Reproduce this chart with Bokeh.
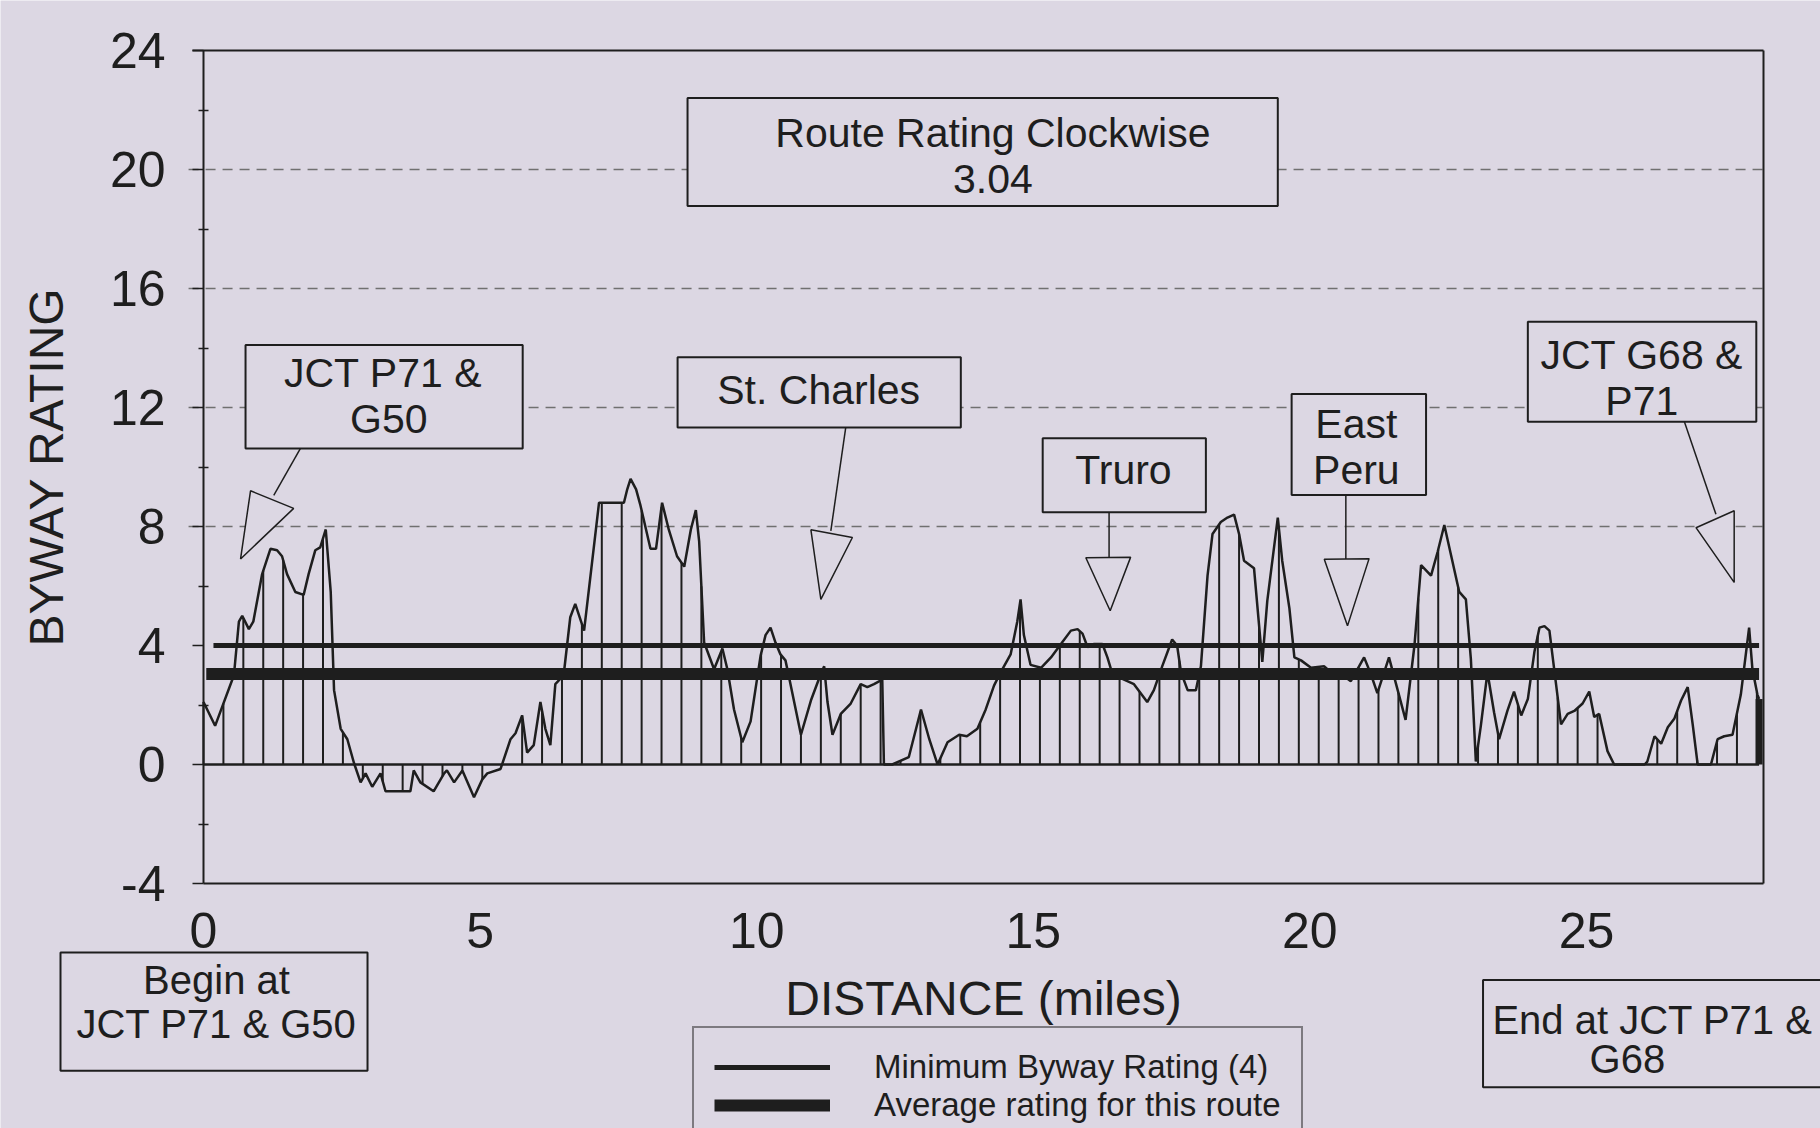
import numpy as np
from bokeh.plotting import figure
from bokeh.models import Range1d, FixedTicker, Legend, LegendItem
from bokeh.core.properties import value
from bokeh.embed import file_html
from bokeh.resources import INLINE

# ---------------- data ----------------
distance_mi = [
    0.00, 0.21, 0.55, 0.64, 0.70, 0.82, 0.90, 1.06, 1.21, 1.33, 1.42, 1.51, 1.66, 1.81, 1.90,
    2.02, 2.11, 2.21, 2.30, 2.36, 2.48, 2.60, 2.72, 2.84, 2.93, 3.05, 3.20, 3.29, 3.74, 3.80,
    3.92, 4.16, 4.35, 4.40, 4.53, 4.68, 4.89, 5.04, 5.13, 5.37, 5.55, 5.64, 5.76, 5.85, 5.97,
    6.09, 6.18, 6.27, 6.36, 6.51, 6.63, 6.72, 6.88, 7.15, 7.60, 7.66, 7.72, 7.82, 7.90, 8.08,
    8.18, 8.29, 8.41, 8.56, 8.69, 8.81, 8.90, 8.96, 9.05, 9.23, 9.38, 9.47, 9.59, 9.74, 9.89,
    10.07, 10.16, 10.25, 10.34, 10.43, 10.52, 10.60, 10.80, 10.98, 11.16, 11.22, 11.28, 11.37,
    11.52, 11.70, 11.88, 12.00, 12.12, 12.27, 12.30, 12.45, 12.75, 12.97, 13.12, 13.27, 13.45,
    13.66, 13.80, 13.99, 14.14, 14.29, 14.41, 14.59, 14.71, 14.77, 14.83, 14.95, 15.14, 15.32,
    15.50, 15.68, 15.80, 15.89, 15.98, 16.10, 16.25, 16.34, 16.43, 16.58, 16.82, 17.06, 17.18,
    17.33, 17.51, 17.60, 17.67, 17.79, 17.94, 18.03, 18.15, 18.24, 18.39, 18.51, 18.63, 18.72,
    18.81, 18.99, 19.14, 19.23, 19.42, 19.50, 19.63, 19.72, 19.84, 20.02, 20.26, 20.38, 20.56,
    20.74, 20.98, 21.10, 21.22, 21.43, 21.73, 21.89, 22.01, 22.19, 22.31, 22.43, 22.55, 22.70,
    22.82, 22.91, 23.00, 23.09, 23.21, 23.33, 23.42, 23.57, 23.69, 23.82, 23.94, 24.06, 24.15,
    24.24, 24.33, 24.42, 24.54, 24.66, 24.78, 24.93, 25.05, 25.14, 25.23, 25.38, 25.50, 26.05,
    26.10, 26.23, 26.35, 26.47, 26.59, 26.71, 26.83, 26.92, 27.01, 27.25, 27.37, 27.49, 27.64,
    27.79, 27.94, 28.00, 28.09, 28.12,
]
rating = [
    2.10, 1.30, 3.00, 4.80, 5.00, 4.55, 4.80, 6.40, 7.25, 7.20, 7.00, 6.40, 5.80, 5.70, 6.40,
    7.20, 7.30, 7.90, 5.80, 2.50, 1.20, 0.85, 0.05, -0.60, -0.30, -0.75, -0.30, -0.90, -0.90, -0.20,
    -0.60, -0.90, -0.30, -0.20, -0.60, -0.20, -1.10, -0.50, -0.30, -0.15, 0.85, 1.05, 1.65, 0.40, 0.65,
    2.10, 1.20, 0.65, 2.70, 3.00, 4.95, 5.40, 4.50, 8.80, 8.80, 9.25, 9.60, 9.25, 8.70, 7.25,
    7.25, 8.80, 7.90, 7.00, 6.65, 7.90, 8.55, 7.50, 4.10, 3.20, 3.90, 3.20, 1.85, 0.75, 1.45,
    3.65, 4.35, 4.60, 4.10, 3.70, 3.50, 2.80, 1.00, 2.15, 3.05, 3.30, 2.10, 1.00,
    1.70, 2.05, 2.70, 2.60, 2.70, 2.85, 0.00, 0.00, 0.25, 1.85, 0.85, 0.00, 0.75,
    1.00, 0.95, 1.20, 1.85, 2.65, 3.10, 3.70, 4.80, 5.55, 4.35, 3.35, 3.25, 3.60,
    4.05, 4.50, 4.55, 4.40, 3.95, 4.05, 4.05, 3.60, 3.05, 2.90, 2.70, 2.10, 2.50,
    3.30, 4.20, 4.00, 3.10, 2.50, 2.50, 3.30, 6.35, 7.75, 8.15, 8.30, 8.40, 7.75,
    6.85, 6.60, 3.45, 5.50, 8.30, 6.85, 5.25, 3.60, 3.50, 3.25, 3.30, 3.10, 3.05,
    2.80, 3.60, 3.05, 2.40, 3.60, 1.50, 4.00, 6.70, 6.35, 7.15, 8.05, 7.05, 5.80,
    5.55, 3.55, 0.10, 1.30, 3.10, 1.75, 0.85, 1.80, 2.45, 1.65, 2.20, 3.80, 4.60,
    4.65, 4.50, 3.15, 1.35, 1.70, 1.80, 2.05, 2.45, 1.60, 1.70, 0.45, 0.00, 0.00,
    0.10, 0.95, 0.70, 1.25, 1.55, 2.15, 2.60, 1.35, 0.00, 0.00, 0.85, 0.95, 1.00,
    2.35, 4.60, 3.20, 2.35, 2.20,
]
min_rating = 4
avg_rating = 3.04
stem_step_mi = 0.36

y_ticks = [-4, 0, 4, 8, 12, 16, 20, 24]
y_minor_ticks = [-2, 2, 6, 10, 14, 18, 22]
x_ticks = [0, 5, 10, 15, 20, 25]
grid_levels = [8, 12, 16, 20]

callout_texts = ["Route Rating Clockwise\n3.04", "JCT P71  &\nG50", "St. Charles",
                 "Truro", "East\nPeru", "JCT G68 &\nP71"]
legend_labels = ["Minimum Byway Rating (4)", "Average rating for this route"]
end_texts = ["Begin at\nJCT P71 & G50", "End at JCT P71 &", "G68"]

# ---------------- layout / style ----------------
BG = "#dcd7e3"
INK = "#1e1e1e"
FONT = "Liberation Sans"
W, H = 1820, 1128
X_MIN, X_MAX = 0, 28.2          # plotted distance span
Y_MIN, Y_MAX = -4, 24           # plotted rating span
FRAME_L, FRAME_R, FRAME_T, FRAME_B = 203, 1763, 50, 883   # pixel box of the chart area
PX_MI = (FRAME_R - FRAME_L) / (X_MAX - X_MIN)
PX_U = (FRAME_B - FRAME_T) / (Y_MAX - Y_MIN)

# the whole canvas is the frame; axes sit at fixed positions inside it
x_range = Range1d(X_MIN - FRAME_L / PX_MI, X_MAX + (W - FRAME_R) / PX_MI)
y_range = Range1d(Y_MIN - (H - FRAME_B) / PX_U, Y_MAX + FRAME_T / PX_U)

# callout boxes (data units): left, right, bottom, top ; text anchor
box_l = [8.75, 0.76, 8.57, 15.17, 19.67, 23.94, -2.585, 23.13]
box_r = [19.42, 5.77, 13.69, 18.12, 22.10, 28.07, 2.965, 29.9]
box_b = [18.77, 10.62, 11.33, 8.48, 9.06, 11.52, -10.29, -10.85]
box_t = [22.40, 14.10, 13.69, 10.97, 12.45, 14.88, -6.32, -7.24]
txt_x = [14.27, 3.35, 11.12, 16.63, 20.84, 26.00]
txt_y = [20.45, 12.37, 12.58, 9.91, 10.68, 13.00]
# arrow stems
arr_x0 = [1.75, 11.61, 16.37, 20.65, 26.77]
arr_y0 = [10.62, 11.33, 8.48, 9.06, 11.52]
arr_x1 = [1.27, 11.34, 16.37, 20.65, 27.34]
arr_y1 = [9.05, 7.85, 6.96, 6.90, 8.41]
tri_xs = [[0.85, 1.63, 0.67], [10.98, 11.73, 11.16], [15.95, 16.76, 16.39],
          [20.26, 21.07, 20.68], [26.98, 27.67, 27.67]]
tri_ys = [[9.20, 8.61, 6.91], [7.89, 7.63, 5.55], [6.95, 6.97, 5.17],
          [6.90, 6.92, 4.66], [7.96, 8.53, 6.12]]

p = figure(width=W, height=H, x_range=x_range, y_range=y_range,
           output_backend="svg", toolbar_location=None, min_border=0)
p.background_fill_color = BG
p.border_fill_color = BG
p.outline_line_color = None
p.xgrid.visible = False
p.ygrid.visible = False

yax = p.yaxis[0]
yax.fixed_location = X_MIN
yax.bounds = (Y_MIN, Y_MAX)
yax.ticker = FixedTicker(ticks=y_ticks, minor_ticks=y_minor_ticks)
yax.major_label_overrides = {-4: "-4"}
yax.axis_line_color = INK
yax.axis_line_width = 2
yax.major_tick_out = 11
yax.major_tick_in = 0
yax.major_tick_line_color = INK
yax.major_tick_line_width = 1.5
yax.minor_tick_out = 5
yax.minor_tick_in = 5
yax.minor_tick_line_color = INK
yax.minor_tick_line_width = 1.5
yax.major_label_text_font = FONT
yax.major_label_text_font_size = "50px"
yax.major_label_text_color = INK
yax.major_label_standoff = 27
yax.axis_label = "BYWAY RATING"
yax.axis_label_text_font = FONT
yax.axis_label_text_font_size = "48px"
yax.axis_label_text_font_style = "normal"
yax.axis_label_text_color = INK
yax.axis_label_standoff = 34

xax = p.xaxis[0]
xax.fixed_location = Y_MIN
xax.bounds = (X_MIN, X_MAX)
xax.ticker = FixedTicker(ticks=x_ticks)
xax.axis_line_color = INK
xax.axis_line_width = 2
xax.major_tick_out = 0
xax.major_tick_in = 0
xax.minor_tick_out = 0
xax.minor_tick_in = 0
xax.major_label_text_font = FONT
xax.major_label_text_font_size = "50px"
xax.major_label_text_color = INK
xax.major_label_standoff = 29
xax.axis_label = "DISTANCE (miles)"
xax.axis_label_text_font = FONT
xax.axis_label_text_font_size = "48px"
xax.axis_label_text_font_style = "normal"
xax.axis_label_text_color = INK
xax.axis_label_standoff = 21

# dashed reference levels and the top / right border of the chart area
p.segment(x0=X_MIN - 0.27, x1=X_MAX, y0=grid_levels, y1=grid_levels,
          line_color="#707070", line_width=1.5, line_dash="10 7")
p.segment(x0=[X_MIN - 0.2, X_MAX], y0=[Y_MAX, Y_MIN], x1=[X_MAX, X_MAX], y1=[Y_MAX, Y_MAX],
          line_color=INK, line_width=2)

# ---------------- profile with drop lines ----------------
d = np.array(distance_mi)
r = np.array(rating)
stem_x = np.arange(0, d[-1], stem_step_mi)
stem_y = np.interp(stem_x, d, r)
p.segment(x0=stem_x, y0=0, x1=stem_x, y1=stem_y, line_color=INK, line_width=2)
p.segment(x0=[d[-1]], y0=[0], x1=[d[-1]], y1=[r[-1]], line_color=INK, line_width=7)
p.line([d[0], d[-1]], [0, 0], line_color=INK, line_width=2.5)
p.line(distance_mi, rating, line_color=INK, line_width=2.5)

r_min = p.line([d[0] + 0.18, d[-1]], [min_rating, min_rating], line_color=INK, line_width=5)
r_avg = p.line([d[0] + 0.05, d[-1]], [avg_rating, avg_rating], line_color=INK, line_width=12)

# ---------------- callouts ----------------
p.quad(left=box_l, right=box_r, bottom=box_b, top=box_t,
       fill_color=BG, line_color=INK, line_width=2)
p.segment(x0=arr_x0, y0=arr_y0, x1=arr_x1, y1=arr_y1, line_color=INK, line_width=1.5)
p.patches(xs=tri_xs, ys=tri_ys, fill_color=BG, line_color=INK, line_width=1.5)
p.text(x=txt_x, y=txt_y, text=callout_texts, text_align="center", text_baseline="middle",
       text_font=value(FONT), text_font_size="41px", text_color=INK, text_line_height=1.0)

# begin / end boxes below the axis
p.text(x=[0.235], y=[-7.99], text=[end_texts[0]], text_align="center", text_baseline="middle",
       text_font=value(FONT), text_font_size="40px", text_color=INK, text_line_height=1.0)
p.text(x=[23.30], y=[-8.60], text=[end_texts[1]], text_align="left", text_baseline="middle",
       text_font=value(FONT), text_font_size="40px", text_color=INK)
p.text(x=[25.74], y=[-9.89], text=[end_texts[2]], text_align="center", text_baseline="middle",
       text_font=value(FONT), text_font_size="40px", text_color=INK)

legend = Legend(items=[LegendItem(label=legend_labels[0], renderers=[r_min]),
                       LegendItem(label=legend_labels[1], renderers=[r_avg])],
                location=(692, -18), orientation="vertical",
                background_fill_color=BG, background_fill_alpha=1,
                border_line_color=INK, border_line_width=2,
                label_text_font=FONT, label_text_font_size="33px", label_text_color=INK,
                label_text_line_height=0.95,
                glyph_width=116, glyph_height=28, label_height=28, label_standoff=44,
                padding=20, spacing=0, margin=0)
p.add_layout(legend, "center")

open("out.html", "w").write(file_html(p, INLINE))
